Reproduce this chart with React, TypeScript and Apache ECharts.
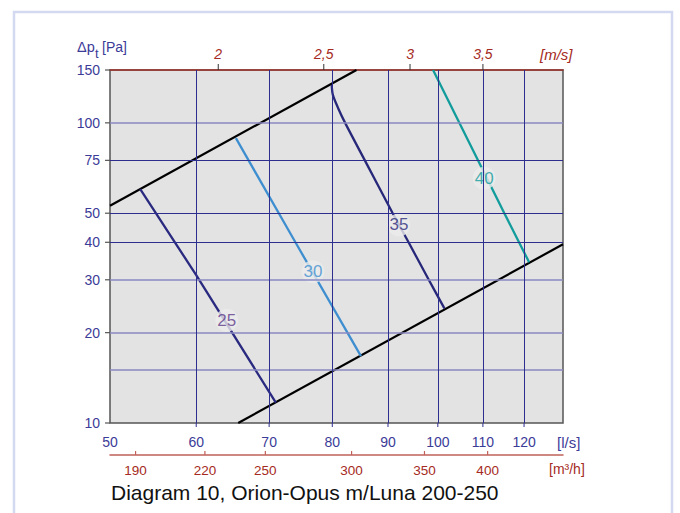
import React, { useEffect, useRef } from 'react';
import * as echarts from 'echarts';

// Axis ticks / labels
const flowTicks = [50, 60, 70, 80, 90, 100, 110, 120];
const flowGrid = [60, 70, 80, 90, 100, 110, 120];
const pressureTicks = [10, 20, 30, 40, 50, 75, 100, 150];
const pressureGridDark = [40, 50, 75];
const pressureGridLight = [15, 20, 30, 100];
const velocityTicks = [2, 2.5, 3, 3.5];
const velocityLabels = ['2', '2,5', '3', '3,5'];
const m3hTicks = [190, 220, 250, 300, 350, 400];

// Axis ranges
const flowRange = [50, 130.3];
const pressureRange = [10, 150];
const velocityRange = [1.5908, 4.1457];
const m3hRange = [180, 469.1];

// System lines (black)
const systemUpper = [[50, 52.97], [84.2, 150]];
const systemLower = [[65.57, 10], [130.3, 39.4]];

// Sound level lines
const sound25 = [[53.3, 60.1], [60.0, 31.1], [71.0, 11.7]];
const sound30 = [[65.25, 88.9], [74.0, 40], [85.0, 16.7]];
const sound35 = [[79.9, 133.8], [80.1, 123.9], [81.0, 111.9], [82.2, 100], [85.7, 75], [90.9, 50], [94.0, 40], [98.1, 30], [101.4, 24.1]];
const sound40 = [[99.0, 150], [115.1, 50], [121.3, 34.3]];

const soundLabels = [
  { name: '25', value: [64.0, 22.0], color: '#5e3a8c' },
  { name: '30', value: [76.8, 31.9], color: '#3f8fd0' },
  { name: '35', value: [92.1, 45.7], color: '#2c2c7c' },
  { name: '40', value: [110.3, 65.4], color: '#139c9c' },
];

const FONT = '"Liberation Sans", Arial, sans-serif';
const BLUE = '#3b3b98';
const RED = '#a52a22';
const GRID_DARK = '#2e2e8e';
const GRID_LIGHT = '#8a88c2';

export default function App() {
  const ref = useRef<HTMLDivElement>(null);

  useEffect(() => {
    const el = ref.current;
    if (!el) return;
    const chart = echarts.init(el, null, { renderer: 'svg' });

    const curve = (name: string, data: number[][], color: string, width = 2.3, smooth: number = 0) => ({
      type: 'line',
      name,
      data,
      xAxisIndex: 0,
      yAxisIndex: 0,
      symbol: 'none',
      showSymbol: false,
      smooth,
      silent: true,
      z: 3,
      lineStyle: { color, width },
    });

    const hidden = {
      axisLine: { show: false },
      axisTick: { show: false },
      axisLabel: { show: false },
      splitLine: { show: false },
    };

    const option: any = {
      animation: false,
      grid: {
        left: 110, top: 70, right: 117, bottom: 90,
        show: true, backgroundColor: '#e3e3e3', borderColor: '#555', borderWidth: 1.5,
      },
      xAxis: [
        { type: 'log', min: flowRange[0], max: flowRange[1], position: 'bottom', ...hidden },
        {
          type: 'log', min: velocityRange[0], max: velocityRange[1], position: 'top', ...hidden,
          axisLine: { show: true, lineStyle: { color: '#a0302a', width: 1.5 } },
        },
        {
          type: 'log', min: m3hRange[0], max: m3hRange[1], position: 'bottom', offset: 32, ...hidden,
          axisLine: { show: true, lineStyle: { color: '#c0605a', width: 1.5 } },
        },
      ],
      yAxis: [{ type: 'log', min: pressureRange[0], max: pressureRange[1], ...hidden }],
      series: [
        {
          type: 'line',
          data: [[flowRange[0], pressureRange[0]]],
          symbol: 'none',
          silent: true,
          z: 1,
          lineStyle: { width: 0 },
          markLine: {
            silent: true,
            animation: false,
            symbol: ['none', 'none'],
            label: { show: false },
            emphasis: { disabled: true },
            data: [
              ...pressureGridLight.map((v) => ({ yAxis: v, lineStyle: { color: GRID_LIGHT, width: 1.6, type: 'solid' } })),
              ...pressureGridDark.map((v) => ({ yAxis: v, lineStyle: { color: GRID_DARK, width: 1, type: 'solid' } })),
              ...flowGrid.map((v) => ({ xAxis: v, lineStyle: { color: GRID_DARK, width: 1, type: 'solid' } })),
            ],
          },
        },
        curve('system-upper', systemUpper, '#000', 2.2),
        curve('system-lower', systemLower, '#000', 2.2),
        curve('25', sound25, '#2a2a80', 2.3, 0),
        curve('30', sound30, '#3f8fd0', 2.3, 0),
        curve('35', sound35, '#28287a', 2.3, 0.3),
        curve('40', sound40, '#139c9c', 2.3, 0),
        {
          type: 'scatter',
          silent: true,
          z: 4,
          symbol: 'circle',
          symbolSize: 23,
          data: soundLabels.map((d) => ({
            name: d.name,
            value: d.value,
            itemStyle: { color: '#ebebeb' },
            label: {
              show: true, position: 'inside', formatter: d.name, color: d.color,
              fontSize: 17, fontFamily: FONT,
            },
          })),
        },
      ],
    };

    chart.setOption(option);

    const px = (v: number) => chart.convertToPixel({ xAxisIndex: 0 }, v) as number;
    const pv = (v: number) => chart.convertToPixel({ xAxisIndex: 1 }, v) as number;
    const pm = (v: number) => chart.convertToPixel({ xAxisIndex: 2 }, v) as number;
    const py = (v: number) => chart.convertToPixel({ yAxisIndex: 0 }, v) as number;

    const gl = px(flowRange[0]);
    const gr = px(flowRange[1]);
    const gt = py(pressureRange[1]);
    const gb = py(pressureRange[0]);
    const m3hLineY = gb + 32;

    const txt = (text: string, x: number, y: number, o: any = {}) => ({
      type: 'text',
      x, y,
      silent: true,
      z: 10,
      style: {
        text,
        fill: o.fill || BLUE,
        fontSize: o.fontSize || 14,
        fontFamily: FONT,
        fontStyle: o.fontStyle || 'normal',
        align: o.align || 'center',
        textAlign: o.align || 'center',
        verticalAlign: 'middle',
        textVerticalAlign: 'middle',
      },
    });
    const seg = (x1: number, y1: number, x2: number, y2: number, stroke: string, lineWidth = 1) => ({
      type: 'line',
      silent: true,
      z: 10,
      shape: { x1, y1, x2, y2 },
      style: { stroke, lineWidth },
    });

    const graphics: any[] = [
      {
        type: 'rect', silent: true, z: 0,
        shape: { x: 14, y: 12, width: 658, height: 530 },
        style: { fill: 'rgba(0,0,0,0)', stroke: '#d3d9f0', lineWidth: 2.5 },
      },
    ];

    pressureTicks.forEach((v) => {
      const y = py(v);
      graphics.push(txt(String(v), gl - 10, y, { align: 'right' }));
      graphics.push(seg(gl - 5, y, gl, y, '#555', 1.2));
    });
    flowTicks.forEach((v) => {
      const x = px(v);
      graphics.push(txt(String(v), x, gb + 19));
      if (v !== flowRange[0]) graphics.push(seg(x, gb, x, gb + 4, GRID_DARK, 1));
    });
    graphics.push(txt('[l/s]', gr - 6, gb + 19, { align: 'left', fontSize: 15 }));

    velocityTicks.forEach((v, i) => {
      const x = pv(v);
      graphics.push(txt(velocityLabels[i], x, gt - 16, { fill: RED, fontStyle: 'italic' }));
      graphics.push(seg(x, gt - 6, x, gt, '#333', 1));
    });
    graphics.push(txt('[m/s]', gr - 23, gt - 16, { align: 'left', fill: RED, fontStyle: 'italic', fontSize: 15 }));

    m3hTicks.forEach((v) => {
      const x = pm(v);
      graphics.push(txt(String(v), x, m3hLineY + 15, { fill: RED, fontSize: 13.5 }));
      graphics.push(seg(x, m3hLineY - 4, x, m3hLineY, '#c0605a', 1.2));
    });
    graphics.push(txt('[m³/h]', gr - 14, m3hLineY + 14, { align: 'left', fill: RED, fontSize: 14 }));

    graphics.push(txt('Δp', 77, 47, { align: 'left', fontSize: 14.5 }));
    graphics.push(txt('t', 95, 53, { align: 'left', fontSize: 13 }));
    graphics.push(txt('[Pa]', 102, 47, { align: 'left', fontSize: 14 }));

    graphics.push(txt('Diagram 10, Orion-Opus m/Luna 200-250', 111, 492, { align: 'left', fill: '#111', fontSize: 21 }));

    chart.setOption({ graphic: { elements: graphics } });

    return () => chart.dispose();
  }, []);

  return (
    <div
      ref={ref}
      style={{ position: 'fixed', left: 0, top: 0, width: 680, height: 513, background: '#fff' }}
    />
  );
}
